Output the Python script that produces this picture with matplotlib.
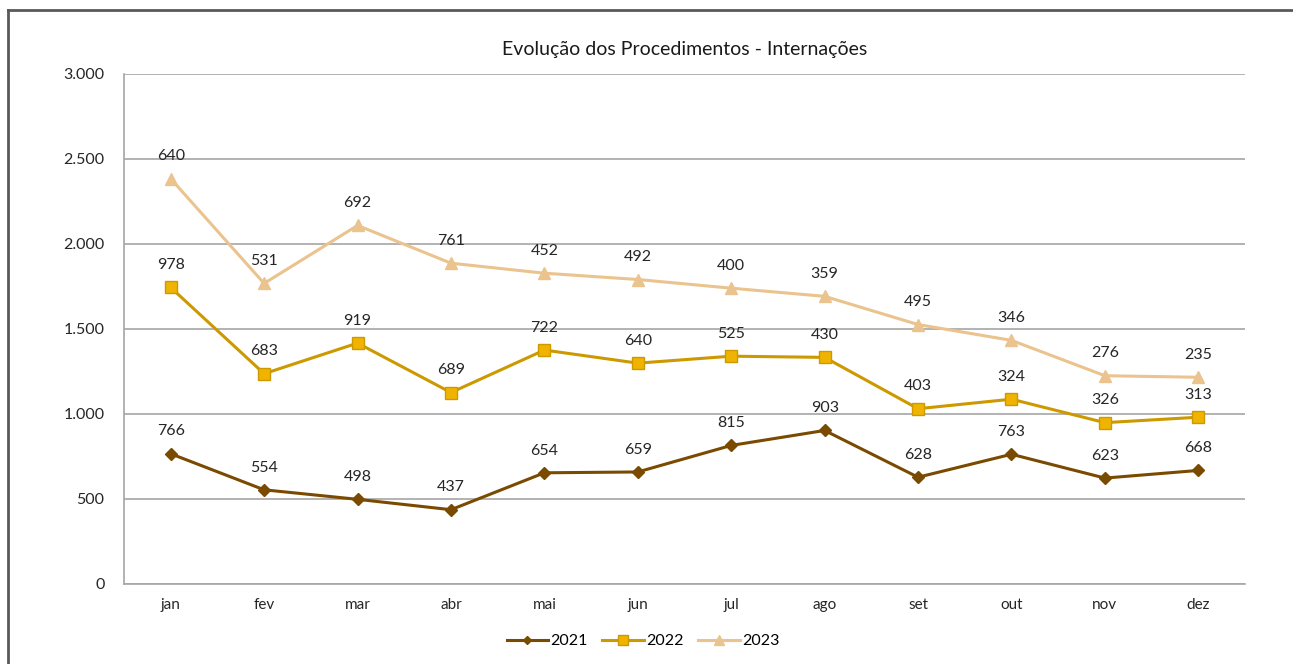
import numpy as np
import matplotlib

matplotlib.use("Agg")

import matplotlib.pyplot as plt
from matplotlib.lines import Line2D
from matplotlib.ticker import FuncFormatter, MultipleLocator

MONTHS = ["jan", "fev", "mar", "abr", "mai", "jun", "jul", "ago", "set", "out", "nov", "dez"]
YEARS = ["2021", "2022", "2023"]
V2021 = [766, 554, 498, 437, 654, 659, 815, 903, 628, 763, 623, 668]
V2022 = [978, 683, 919, 689, 722, 640, 525, 430, 403, 324, 326, 313]
V2023 = [640, 531, 692, 761, 452, 492, 400, 359, 495, 346, 276, 235]

STYLES = [
    dict(color="#7a4a00", marker="D", ms=6, mfc="#7a4a00", mec="#7a4a00"),
    dict(color="#cc9900", marker="s", ms=9, mfc="#f0b400", mec="#cc9900"),
    dict(color="#eac38e", marker="^", ms=9, mfc="#eac38e", mec="#eac38e"),
]

plt.rcParams["font.family"] = ["Lato", "DejaVu Sans"]

fig = plt.figure(figsize=(12.93, 6.64), dpi=100, facecolor="white")
ax = fig.add_axes([0.0959, 0.1205, 0.8670, 0.7681])

x = np.arange(len(MONTHS)) + 0.5
stacked = np.cumsum([V2021, V2022, V2023], axis=0)
raw = [V2021, V2022, V2023]

for year, vals, cum, st in zip(YEARS, raw, stacked, STYLES):
    ax.plot(x, cum, lw=2.2, label=year, **st)
    for xi, yi, v in zip(x, cum, vals):
        ax.annotate(str(v), (xi, yi), xytext=(0, 11), textcoords="offset points",
                    ha="center", va="bottom", fontsize=11.5, color="#262626")

ax.set_xlim(0, len(MONTHS))
ax.set_ylim(0, 3000)
ax.yaxis.set_major_locator(MultipleLocator(500))
ax.yaxis.set_major_formatter(FuncFormatter(lambda v, p: f"{int(v):,}".replace(",", ".")))
ax.set_xticks(x)
ax.set_xticklabels(MONTHS)
ax.tick_params(axis="x", length=0, pad=10, labelsize=11, colors="#262626")
ax.tick_params(axis="y", length=0, pad=14, labelsize=11.5, colors="#262626")
ax.grid(axis="y", color="#a6a6a6", lw=1.2)
ax.set_axisbelow(True)
for side in ["top", "right"]:
    ax.spines[side].set_visible(False)
for side in ["left", "bottom"]:
    ax.spines[side].set_color("#a6a6a6")
    ax.spines[side].set_linewidth(1.2)

ax.set_title("Evolução dos Procedimentos - Internações", fontsize=14, color="#1a1a1a", pad=14)

ax.legend(loc="upper center", bbox_to_anchor=(0.463, -0.07), ncol=3, frameon=False,
          fontsize=11.5, handlelength=2.6, handletextpad=0.15, columnspacing=0.9,
          markerscale=0.75)

# outer chart frame
fig.add_artist(Line2D([8 / 1293, 8 / 1293], [0, 1 - 10 / 664], transform=fig.transFigure,
                      color="#595959", lw=2))
fig.add_artist(Line2D([8 / 1293, 1], [1 - 10 / 664, 1 - 10 / 664], transform=fig.transFigure,
                      color="#595959", lw=2))

fig.savefig("out.png", dpi=100, facecolor="white")
